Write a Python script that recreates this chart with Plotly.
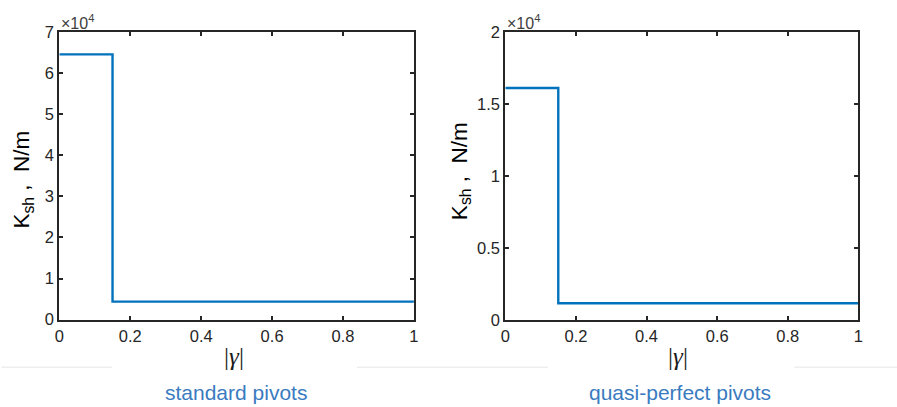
import plotly.graph_objects as go

# Data
gamma_std = [0, 0.15, 1]
ksh_std = [64500, 4400, 4400]
gamma_qp = [0, 0.15, 1]
ksh_qp = [16100, 1170, 1170]

x_ticks = [0, 0.2, 0.4, 0.6, 0.8, 1]
x_ticktext = ["0", "0.2", "0.4", "0.6", "0.8", "1"]
y_ticks_std = [0, 10000, 20000, 30000, 40000, 50000, 60000, 70000]
y_ticktext_std = ["0", "1", "2", "3", "4", "5", "6", "7"]
y_ticks_qp = [0, 5000, 10000, 15000, 20000]
y_ticktext_qp = ["0", "0.5", "1", "1.5", "2"]

W, H = 897, 407
AX = "#262626"
LINE = "#0072BD"

fig = go.Figure()
fig.add_trace(go.Scatter(x=gamma_std, y=ksh_std, mode="lines", line=dict(color=LINE, width=2.4, shape="hv"),
                         xaxis="x", yaxis="y", showlegend=False))
fig.add_trace(go.Scatter(x=gamma_qp, y=ksh_qp, mode="lines", line=dict(color=LINE, width=2.4, shape="hv"),
                         xaxis="x2", yaxis="y2", showlegend=False))

# compensate for the observed capture transform (x' = 0.99x + 3.6, y' = 0.966y + 6)
def px(x):
    return ((x - 3.6) / 0.99) / W

def py(y):
    return 1 - ((y - 6) / 0.966) / H

common = dict(showline=True, linewidth=2.2, linecolor=AX, mirror="allticks", ticks="inside",
              ticklen=4, tickwidth=2, tickcolor=AX, showgrid=False, zeroline=False,
              tickfont=dict(family="Liberation Sans, Arial", size=16.5, color=AX))

fig.update_layout(
    width=W, height=H, margin=dict(l=0, r=0, t=0, b=0),
    paper_bgcolor="white", plot_bgcolor="white",
    xaxis=dict(domain=[px(58), px(413)], range=[0, 1], tickvals=x_ticks, ticktext=x_ticktext,
               anchor="y", **common),
    yaxis=dict(domain=[py(320), py(29)], range=[0, 70000], tickvals=y_ticks_std, ticktext=y_ticktext_std,
               anchor="x", **common),
    xaxis2=dict(domain=[px(504.5), px(858)], range=[0, 1], tickvals=x_ticks, ticktext=x_ticktext,
                anchor="y2", **common),
    yaxis2=dict(domain=[py(320.5), py(29)], range=[0, 20000], tickvals=y_ticks_qp, ticktext=y_ticktext_qp,
                anchor="x2", **common),
)

ann = []
def add_text(x, y, text, size, color=AX, angle=0, xanchor="center", family="Liberation Sans, Arial"):
    ann.append(dict(x=px(x), y=py(y), xref="paper", yref="paper", text=text, showarrow=False,
                    textangle=angle, xanchor=xanchor, yanchor="middle",
                    font=dict(family=family, size=size, color=color)))

# y titles
add_text(22, 178, "K<sub>sh</sub> ,  N/m", 22.5, color="#000000", angle=-90)
add_text(460, 170, "K<sub>sh</sub> ,  N/m", 22.5, color="#000000", angle=-90)
# x titles
add_text(233, 357, "|<i>γ</i>|", 25, color="#1a1a1a", family="Liberation Serif, Times New Roman")
add_text(677, 357, "|<i>γ</i>|", 25, color="#1a1a1a", family="Liberation Serif, Times New Roman")
# exponent labels
add_text(58, 19, "×10<sup>4</sup>", 16, color="#404040", xanchor="left")
add_text(504, 19, "×10<sup>4</sup>", 16, color="#404040", xanchor="left")
# subtitles
add_text(235, 394, "standard pivots", 21, color="#3a7bbf")
add_text(679, 394, "quasi-perfect pivots", 21, color="#3a7bbf")

shapes = []
for x0, x1 in [(0, 111), (356, 547), (794, 900)]:
    shapes.append(dict(type="line", xref="paper", yref="paper", x0=px(x0), x1=px(x1), y0=py(368), y1=py(368),
                       line=dict(color="#e6e6e6", width=1)))

fig.update_layout(annotations=ann, shapes=shapes)
fig.write_html("out.html", config={"displayModeBar": False},
               post_script="document.body.style.margin='0';document.body.style.overflow='hidden';")
